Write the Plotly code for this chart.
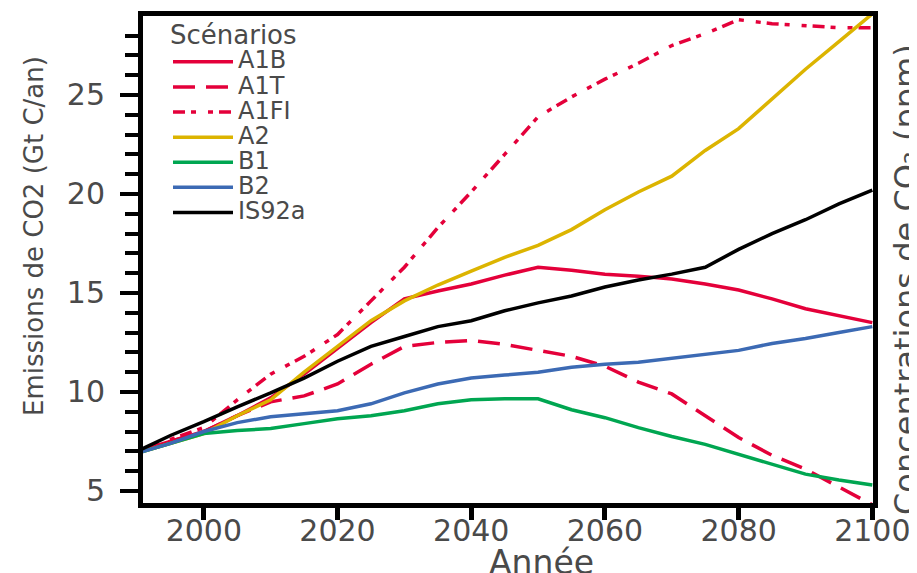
import plotly.graph_objects as go

years = [1990, 1995, 2000, 2005, 2010, 2015, 2020, 2025, 2030, 2035, 2040, 2045,
         2050, 2055, 2060, 2065, 2070, 2075, 2080, 2085, 2090, 2095, 2100]

a1b = [7.0, 7.5, 8.0, 8.8, 9.7, 10.9, 12.2, 13.5, 14.7, 15.1, 15.45, 15.9,
       16.3, 16.15, 15.95, 15.85, 15.7, 15.45, 15.15, 14.7, 14.2, 13.85, 13.5]
a1t = [7.0, 7.5, 8.0, 8.8, 9.5, 9.8, 10.4, 11.4, 12.3, 12.5, 12.6, 12.4,
       12.1, 11.8, 11.3, 10.5, 9.9, 8.8, 7.7, 6.8, 6.1, 5.2, 4.3]
a1fi = [7.0, 7.6, 8.2, 9.6, 10.9, 11.8, 12.9, 14.6, 16.3, 18.3, 20.1, 22.0,
        23.9, 24.9, 25.8, 26.6, 27.5, 28.1, 28.8, 28.6, 28.5, 28.4, 28.4]
a2 = [6.9, 7.4, 7.9, 8.8, 9.6, 11.0, 12.3, 13.6, 14.6, 15.4, 16.1, 16.8,
      17.4, 18.2, 19.2, 20.1, 20.9, 22.2, 23.3, 24.8, 26.3, 27.7, 29.1]
b1 = [6.9, 7.4, 7.9, 8.05, 8.15, 8.4, 8.65, 8.8, 9.05, 9.4, 9.6, 9.65,
      9.65, 9.1, 8.7, 8.2, 7.75, 7.35, 6.85, 6.35, 5.85, 5.55, 5.3]
b2 = [6.9, 7.4, 8.0, 8.45, 8.75, 8.9, 9.05, 9.4, 9.95, 10.4, 10.7, 10.85,
      11.0, 11.25, 11.4, 11.5, 11.7, 11.9, 12.1, 12.45, 12.7, 13.0, 13.3]
is92a = [7.0, 7.8, 8.5, 9.25, 9.95, 10.7, 11.55, 12.3, 12.8, 13.3, 13.6, 14.1,
         14.5, 14.85, 15.3, 15.65, 15.95, 16.3, 17.2, 18.0, 18.7, 19.5, 20.2]

x_ticks = [2000, 2020, 2040, 2060, 2080, 2100]
y_ticks = [5, 10, 15, 20, 25]

series = [
    ("A1B", a1b, "#E4003A", "solid"),
    ("A1T", a1t, "#E4003A", "22px,11px"),
    ("A1FI", a1fi, "#E4003A", "12px,6px,5px,12px,5px,6px"),
    ("A2", a2, "#DCB400", "solid"),
    ("B1", b1, "#00A651", "solid"),
    ("B2", b2, "#3C6AB4", "solid"),
    ("IS92a", is92a, "#000000", "solid"),
]

FONT = "DejaVu Sans, Arial, sans-serif"
TXT = "#4a4a4a"

OFF = 8
L, R, T, B = 135, 52, 8, 78
PW = 917 - L - R
PH = 573 - T - B


def px_x(page_x):
    return (page_x - OFF - L) / PW


def px_y(page_y):
    return (573 - B - (page_y - OFF)) / PH


fig = go.Figure()
for name, vals, color, dash in series:
    fig.add_trace(go.Scatter(
        x=years, y=vals, mode="lines",
        name='<span style="font-size:24px">%s</span>' % name,
        line=dict(color=color, width=3.5, dash=dash),
    ))

fig.update_layout(
    width=917, height=573,
    margin=dict(l=L, r=R, t=T, b=B, autoexpand=False),
    paper_bgcolor="white", plot_bgcolor="white",
    font=dict(family=FONT, color=TXT),
    showlegend=True,
    legend=dict(
        x=px_x(168), y=px_y(10.5), xanchor="left", yanchor="top",
        bgcolor="rgba(0,0,0,0)", borderwidth=0,
        font=dict(family=FONT, size=17, color=TXT),
        title=dict(text="Scénarios", font=dict(family=FONT, size=26, color=TXT)),
        itemwidth=60, tracegroupgap=0,
    ),
    xaxis=dict(
        range=[1990.9, 2100.1], tickvals=x_ticks, ticktext=[str(v) for v in x_ticks],
        showgrid=False, zeroline=False, automargin=False,
        showline=True, linecolor="black", linewidth=5, mirror=True,
        ticks="outside", ticklen=12, tickwidth=5, tickcolor="black",
        tickfont=dict(family=FONT, size=30, color=TXT),
        ticklabelstandoff=-15,
    ),
    yaxis=dict(
        range=[4.39, 28.99], tickvals=y_ticks, ticktext=[str(v) for v in y_ticks],
        showgrid=False, zeroline=False, automargin=False,
        showline=True, linecolor="black", linewidth=5, mirror=True,
        ticks="outside", ticklen=18, tickwidth=4, tickcolor="black",
        tickfont=dict(family=FONT, size=30, color=TXT),
        ticklabelstandoff=9,
        minor=dict(dtick=1, ticks="outside", ticklen=13, tickwidth=4, tickcolor="black", showgrid=False),
    ),
    annotations=[
        dict(text="Année", xref="paper", yref="paper", x=px_x(541), y=px_y(562),
             xanchor="center", yanchor="middle", showarrow=False,
             font=dict(family=FONT, size=33, color=TXT)),
        dict(text="Emissions de CO2 (Gt C/an)", xref="paper", yref="paper",
             x=px_x(34), y=px_y(236), textangle=-90,
             xanchor="center", yanchor="middle", showarrow=False,
             font=dict(family=FONT, size=26, color=TXT)),
        dict(text="Concentrations de CO₂ (ppm)", xref="paper", yref="paper",
             x=px_x(906), y=px_y(280), textangle=-90,
             xanchor="center", yanchor="middle", showarrow=False,
             font=dict(family=FONT, size=32, color=TXT)),
    ],
)

fig.write_html("out.html")
